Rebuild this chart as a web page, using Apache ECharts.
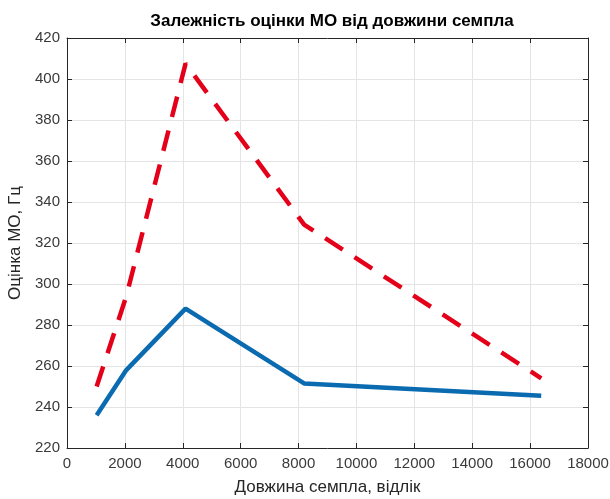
<!DOCTYPE html>
<html lang="uk">
<head>
    <meta charset="UTF-8">
    <title>Залежність оцінки МО від довжини семпла</title>
    <script src="https://cdn.jsdelivr.net/npm/echarts@6/dist/echarts.min.js"></script>
    <style>
        html, body { margin: 0; padding: 0; background: #fff; }
        #chart { width: 610px; height: 499px; }
    </style>
</head>
<body>
<div id="chart"></div>
<script>
    // довжини семплів (вісь X)
    var sampleLengths = [1024, 2048, 4096, 8192, 16384];
    // оцінка МО, Гц
    var blueValues = [236, 258, 288, 251.5, 245.5];
    var redValues = [250, 294, 407.5, 329, 254];

    var xTicks = {min: 0, max: 18000, step: 2000};
    var yTicks = {min: 220, max: 420, step: 20};

    function pairs(xs, ys) {
        var out = [];
        for (var i = 0; i < xs.length; i++) {
            out.push([xs[i], ys[i]]);
        }
        return out;
    }

    var font = "'Liberation Sans', Arial, sans-serif";
    var axisColor = '#262626';
    var labelColor = '#3a3a3a';

    var chart = echarts.init(document.getElementById('chart'));
    chart.setOption({
        animation: false,
        title: {
            text: 'Залежність оцінки МО від довжини семпла',
            left: 327,
            textAlign: 'center',
            top: 8,
            textStyle: {fontFamily: font, fontSize: 17, fontWeight: 'bold', color: '#000'}
        },
        grid: {left: 67, right: 22, top: 38, bottom: 51, outerBoundsMode: 'none', containLabel: false},
        xAxis: [{
            type: 'value',
            min: xTicks.min, max: xTicks.max, interval: xTicks.step,
            name: 'Довжина семпла, відлік',
            nameLocation: 'middle',
            nameGap: 31,
            nameTextStyle: {fontFamily: font, fontSize: 17, color: axisColor},
            axisLine: {lineStyle: {color: axisColor, width: 1}},
            axisTick: {inside: true, length: 5, lineStyle: {color: axisColor}},
            axisLabel: {
                fontFamily: font, fontSize: 15, color: labelColor, margin: 8,
                formatter: function (v) { return String(v); }
            },
            splitLine: {show: true, lineStyle: {color: '#e4e4e4', width: 1}}
        }, {
            type: 'value', position: 'top',
            min: xTicks.min, max: xTicks.max, interval: xTicks.step,
            axisLine: {show: true, onZero: false, lineStyle: {color: axisColor, width: 1}},
            axisTick: {inside: true, length: 5, lineStyle: {color: axisColor}},
            axisLabel: {show: false},
            splitLine: {show: false}
        }],
        yAxis: [{
            type: 'value',
            min: yTicks.min, max: yTicks.max, interval: yTicks.step,
            name: 'Оцінка МО, Гц',
            nameLocation: 'middle',
            nameGap: 42,
            nameTextStyle: {fontFamily: font, fontSize: 17, color: axisColor},
            axisLine: {show: true, onZero: false, lineStyle: {color: axisColor, width: 1}},
            axisTick: {show: true, inside: true, length: 5, lineStyle: {color: axisColor}},
            axisLabel: {fontFamily: font, fontSize: 15, color: labelColor, margin: 7},
            splitLine: {show: true, lineStyle: {color: '#e4e4e4', width: 1}}
        }, {
            type: 'value', position: 'right',
            min: yTicks.min, max: yTicks.max, interval: yTicks.step,
            axisLine: {show: true, onZero: false, lineStyle: {color: axisColor, width: 1}},
            axisTick: {show: true, inside: true, length: 5, lineStyle: {color: axisColor}},
            axisLabel: {show: false},
            splitLine: {show: false}
        }],
        series: [{
            type: 'line',
            data: pairs(sampleLengths, redValues),
            showSymbol: false,
            lineStyle: {color: '#e5001a', width: 4.5, type: [21, 14], cap: 'butt'}
        }, {
            type: 'line',
            data: pairs(sampleLengths, blueValues),
            showSymbol: false,
            lineStyle: {color: '#0a6bb0', width: 4.5}
        }]
    });
</script>
</body>
</html>
